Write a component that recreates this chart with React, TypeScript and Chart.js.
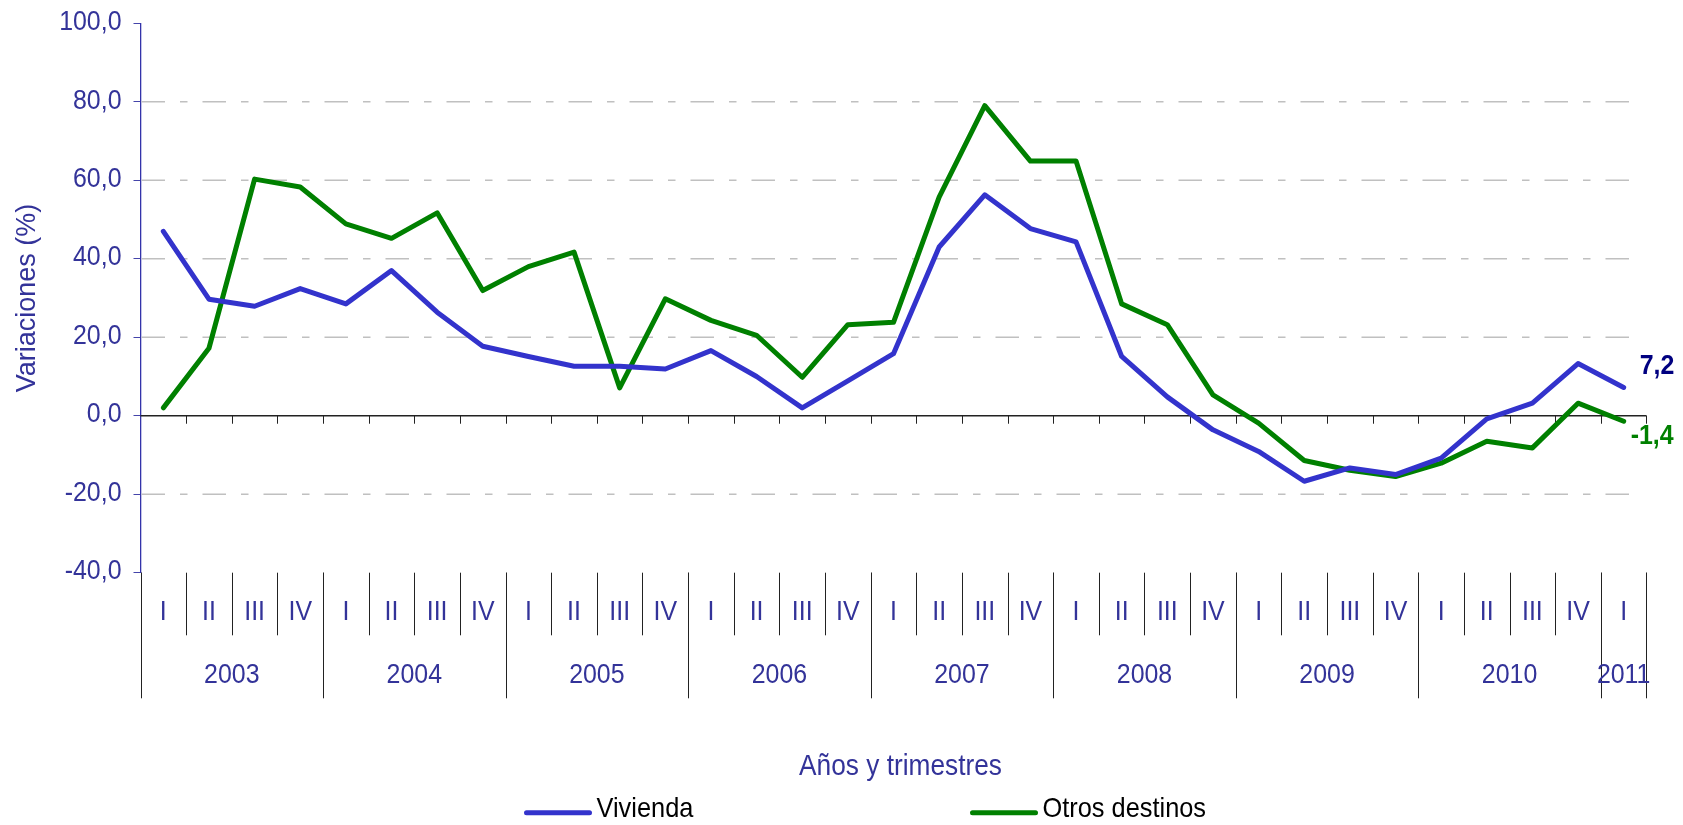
import React, { useEffect, useRef } from 'react';
import { Chart, registerables } from 'chart.js';

Chart.register(...registerables);

// ---------- Data ----------
const categories = [
  '2003 I', '2003 II', '2003 III', '2003 IV',
  '2004 I', '2004 II', '2004 III', '2004 IV',
  '2005 I', '2005 II', '2005 III', '2005 IV',
  '2006 I', '2006 II', '2006 III', '2006 IV',
  '2007 I', '2007 II', '2007 III', '2007 IV',
  '2008 I', '2008 II', '2008 III', '2008 IV',
  '2009 I', '2009 II', '2009 III', '2009 IV',
  '2010 I', '2010 II', '2010 III', '2010 IV',
  '2011 I',
];

const quarterLabels = [
  'I', 'II', 'III', 'IV', 'I', 'II', 'III', 'IV', 'I', 'II', 'III', 'IV',
  'I', 'II', 'III', 'IV', 'I', 'II', 'III', 'IV', 'I', 'II', 'III', 'IV',
  'I', 'II', 'III', 'IV', 'I', 'II', 'III', 'IV', 'I',
];

const yearLabels = ['2003', '2004', '2005', '2006', '2007', '2008', '2009', '2010', '2011'];
const quartersPerYear = [4, 4, 4, 4, 4, 4, 4, 4, 1];

const vivienda = [
  47.0, 29.7, 27.9, 32.4, 28.5, 37.0, 26.4, 17.7, 15.1, 12.6, 12.6, 11.9,
  16.6, 10.0, 2.0, 8.9, 15.8, 43.0, 56.3, 47.7, 44.3, 15.1, 4.8, -3.6,
  -9.1, -16.7, -13.3, -15.0, -10.8, -0.8, 3.2, 13.3, 7.2,
];

const otrosDestinos = [
  2.0, 17.2, 60.3, 58.3, 48.9, 45.2, 51.7, 31.9, 38.0, 41.7, 7.1, 29.8,
  24.3, 20.5, 9.8, 23.2, 23.8, 55.7, 79.0, 64.9, 64.9, 28.5, 23.2, 5.3,
  -1.9, -11.4, -13.9, -15.5, -12.1, -6.5, -8.2, 3.2, -1.4,
];

const seriesNames = ['Vivienda', 'Otros destinos'];
const yTickValues = [100, 80, 60, 40, 20, 0, -20, -40];
const gridLineValues = [80, 60, 40, 20, -20];

const yTitle = 'Variaciones (%)';
const xTitle = 'Años y trimestres';

// ---------- Styles ----------
const AXIS_TEXT = '#333399';
const BLUE = '#3333CC';
const GREEN = '#008000';
const NAVY = '#000080';
const FONT = '"Liberation Sans", Arial, sans-serif';
const SX = 0.89;

const fmt = (v: number) => v.toFixed(1).replace('.', ',');

function drawText(
  ctx: CanvasRenderingContext2D,
  text: string,
  x: number,
  y: number,
  size: number,
  color: string,
  align: CanvasTextAlign,
  bold = false,
  baseline: CanvasTextBaseline = 'middle'
) {
  ctx.save();
  ctx.translate(x, y);
  ctx.scale(SX, 1);
  ctx.font = `${bold ? 'bold ' : ''}${size}px ${FONT}`;
  ctx.fillStyle = color;
  ctx.textAlign = align;
  ctx.textBaseline = baseline;
  ctx.fillText(text, 0, 0);
  ctx.restore();
}

const customPlugin = {
  id: 'customDecor',
  beforeDatasetsDraw(chart: any) {
    const { ctx, chartArea: a, scales } = chart;
    const x = scales.x;
    const y = scales.y;
    ctx.save();
    // dashed grid lines
    ctx.strokeStyle = '#c0c0c0';
    ctx.lineWidth = 1.5;
    ctx.setLineDash([23.5, 15, 7.5, 15]);
    for (const v of gridLineValues) {
      const py = y.getPixelForValue(v);
      ctx.beginPath();
      ctx.moveTo(a.left + 1, py);
      ctx.lineTo(a.right - 6, py);
      ctx.stroke();
    }
    ctx.setLineDash([]);
    // zero axis line + ticks
    const y0 = y.getPixelForValue(0);
    ctx.strokeStyle = '#222222';
    ctx.lineWidth = 1.5;
    ctx.beginPath();
    ctx.moveTo(a.left, y0);
    ctx.lineTo(a.right, y0);
    ctx.stroke();
    const step = x.getPixelForValue(1) - x.getPixelForValue(0);
    const start = x.getPixelForValue(0) - step / 2;
    ctx.lineWidth = 1;
    for (let i = 1; i <= categories.length; i++) {
      const bx = Math.round(start + i * step) + 0.5;
      ctx.beginPath();
      ctx.moveTo(bx, y0);
      ctx.lineTo(bx, y0 + 8);
      ctx.stroke();
    }
    ctx.restore();
  },
  afterDraw(chart: any) {
    const { ctx, chartArea: a, scales } = chart;
    const x = scales.x;
    const y = scales.y;
    const step = x.getPixelForValue(1) - x.getPixelForValue(0);
    const start = x.getPixelForValue(0) - step / 2;
    const bottom = a.bottom;

    ctx.save();
    // y tick labels
    for (const v of yTickValues) {
      drawText(ctx, fmt(v), a.left - 19, y.getPixelForValue(v) - 1, 28, AXIS_TEXT, 'right');
    }

    // category dividers
    ctx.strokeStyle = '#222222';
    ctx.lineWidth = 1;
    for (let i = 0; i <= categories.length; i++) {
      const bx = Math.round(start + i * step) + 0.5;
      ctx.beginPath();
      ctx.moveTo(bx, bottom);
      ctx.lineTo(bx, bottom + 62.6);
      ctx.stroke();
    }
    let idx = 0;
    const yearBounds = [0];
    for (const q of quartersPerYear) {
      idx += q;
      yearBounds.push(idx);
    }
    for (const b of yearBounds) {
      const bx = Math.round(start + b * step) + 0.5;
      ctx.beginPath();
      ctx.moveTo(bx, bottom);
      ctx.lineTo(bx, bottom + 125.6);
      ctx.stroke();
    }
    // quarter labels
    quarterLabels.forEach((q, i) => {
      drawText(ctx, q, x.getPixelForValue(i), bottom + 39.5, 28, AXIS_TEXT, 'center');
    });
    // year labels
    yearLabels.forEach((yr, k) => {
      const cx = start + ((yearBounds[k] + yearBounds[k + 1]) / 2) * step;
      drawText(ctx, yr, cx, bottom + 102.5, 28, AXIS_TEXT, 'center');
    });
    // x axis title
    const cxArea = (a.left + a.right) / 2;
    drawText(ctx, xTitle, cxArea + 7, bottom + 194, 29.5, AXIS_TEXT, 'center');

    // end labels
    const last = categories.length - 1;
    const lx = x.getPixelForValue(last);
    const vLast = vivienda[last];
    const oLast = otrosDestinos[last];
    drawText(ctx, fmt(vLast), lx + 16, y.getPixelForValue(vLast) - 21, 28, NAVY, 'left', true);
    drawText(ctx, fmt(oLast), lx + 7, y.getPixelForValue(oLast) + 15, 28, GREEN, 'left', true);

    // legend
    const legendY = 812.7;
    const items = [
      { name: seriesNames[0], color: BLUE, x0: cxArea - 369 },
      { name: seriesNames[1], color: GREEN, x0: cxArea + 77 },
    ];
    for (const it of items) {
      ctx.strokeStyle = it.color;
      ctx.lineWidth = 5;
      ctx.lineCap = 'round';
      ctx.beginPath();
      ctx.moveTo(it.x0 + 2, legendY);
      ctx.lineTo(it.x0 + 65, legendY);
      ctx.stroke();
      drawText(ctx, it.name, it.x0 + 72, 817, 28.5, '#000000', 'left', false, 'alphabetic');
    }
    ctx.restore();
  },
};

export default function App() {
  const canvasRef = useRef<HTMLCanvasElement | null>(null);

  useEffect(() => {
    const canvas = canvasRef.current;
    if (!canvas) return;
    const chart = new Chart(canvas, {
      type: 'line',
      data: {
        labels: categories,
        datasets: [
          {
            label: seriesNames[0],
            data: vivienda,
            borderColor: BLUE,
            backgroundColor: BLUE,
            borderWidth: 5,
            pointRadius: 0,
            pointHoverRadius: 0,
            tension: 0,
            borderCapStyle: 'round',
            borderJoinStyle: 'round',
            fill: false,
          },
          {
            label: seriesNames[1],
            data: otrosDestinos,
            borderColor: GREEN,
            backgroundColor: GREEN,
            borderWidth: 5,
            pointRadius: 0,
            pointHoverRadius: 0,
            tension: 0,
            borderCapStyle: 'round',
            borderJoinStyle: 'round',
            fill: false,
          },
        ],
      },
      options: {
        responsive: false,
        animation: false,
        devicePixelRatio: 1,
        layout: { padding: { left: 0, right: 36.5, top: 23.3, bottom: 252.3 } },
        plugins: {
          legend: { display: false },
          tooltip: { enabled: false },
          title: { display: false },
        },
        scales: {
          x: {
            type: 'category',
            display: false,
            offset: true,
          },
          y: {
            min: -40,
            max: 100,
            afterFit: (scale: any) => {
              scale.width = 140.5;
            },
            ticks: {
              stepSize: 20,
              display: false,
            },
            grid: {
              color: 'rgba(0,0,0,0)',
              tickColor: '#4444aa',
              tickLength: 7,
              drawOnChartArea: false,
              drawTicks: true,
            },
            border: { display: true, color: '#3333aa', width: 1.3 },
            title: {
              display: true,
              text: yTitle,
              color: AXIS_TEXT,
              font: { family: FONT, size: 27 },
              padding: { top: 11, bottom: 0 },
            },
          },
        },
      },
      plugins: [customPlugin],
    });
    return () => chart.destroy();
  }, []);

  return (
    <div style={{ position: 'absolute', left: 0, top: 0, width: 1683, height: 825, background: '#ffffff' }}>
      <canvas ref={canvasRef} width={1683} height={825} style={{ display: 'block' }} />
    </div>
  );
}
